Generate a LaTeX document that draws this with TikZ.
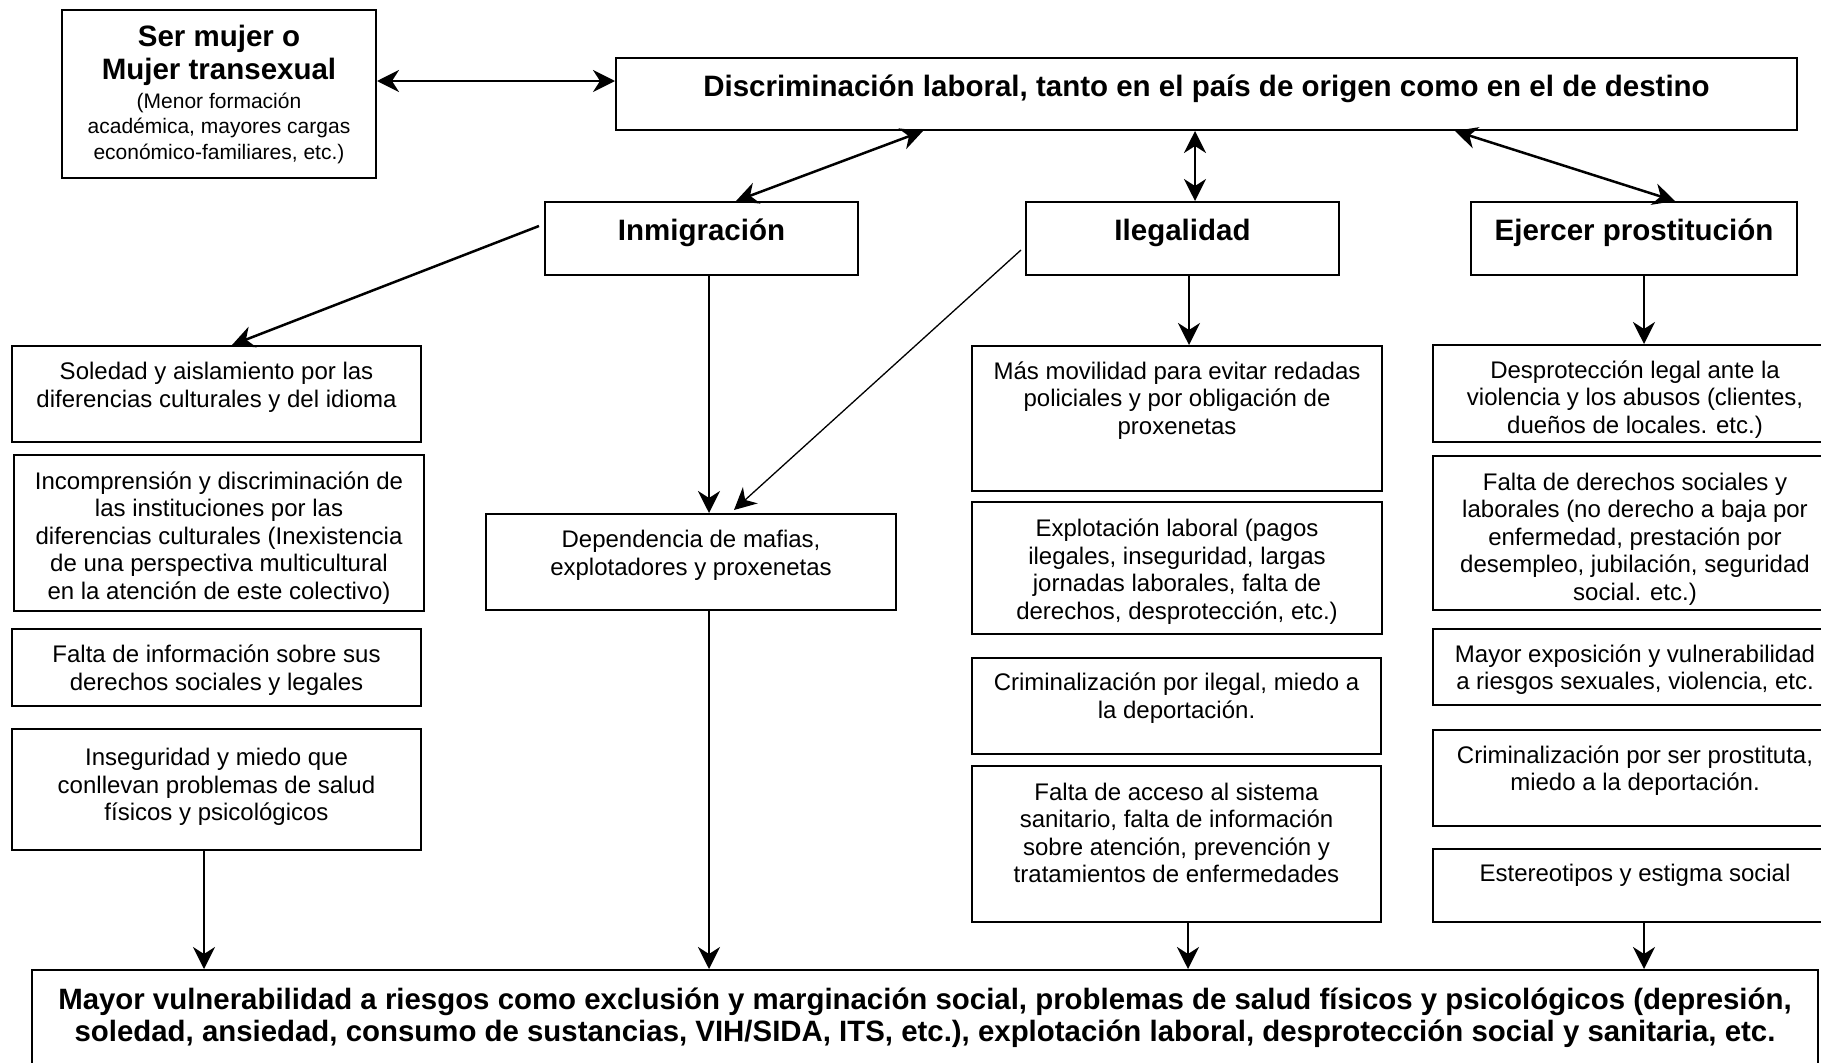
\documentclass[tikz,border=0pt]{standalone}
\usepackage{fontspec}
\setsansfont{Liberation Sans}
\usetikzlibrary{arrows.meta}
\tikzset{%
  >={Stealth[length=22pt,width=22pt,inset=7pt]},
  % Specifications for style of nodes:
        base/.style = {rectangle, draw=black, line width=2pt, align=center,
                       inner sep=0pt, font=\sffamily\fontsize{24}{27.5}\selectfont},
       cause/.style = {base, minimum height=73pt, text height=20pt, text depth=16pt,
                       font=\sffamily\bfseries\fontsize{29.5}{33}\selectfont},
      effect/.style = {base, minimum width=409pt},
  prostEffect/.style = {base, minimum width=404pt},
    thinline/.style = {line width=1.3pt},
}
% text placed lower (strut on first line) or higher (empty last line) in its box
\newcommand{\down}[1]{\rule{0pt}{#1}}
\newcommand{\up}[1]{\\[#1]~}

\begin{document}
\begin{tikzpicture}[x=1pt, y=-1pt, line width=2.5pt]
  \useasboundingbox (0,0) rectangle (1821,1063);

  % Specification of nodes (position, etc.)
  \node (mujer)    [base, minimum width=314pt, minimum height=168pt] at (219,94)
     {\bfseries\fontsize{29.5}{33}\selectfont Ser mujer o\\[5.5pt]
      \bfseries\fontsize{29.5}{33}\selectfont Mujer transexual\\[1.5pt]
      \fontsize{21}{25}\selectfont (Menor formación\\[-2pt]
      \fontsize{21}{25}\selectfont académica, mayores cargas\\[-2pt]
      \fontsize{21}{25}\selectfont económico-familiares, etc.)};
  \node (discrim)  [cause, minimum width=1181pt, minimum height=72pt] at (1206.5,94)
     {Discriminación laboral, tanto en el país de origen como en el de destino};
  \node (inmig)    [cause, minimum width=313pt] at (701.5,238.5) {Inmigración};
  \node (ilegal)   [cause, minimum width=313pt] at (1182.5,238.5) {Ilegalidad};
  \node (prosti)   [cause, minimum width=326pt] at (1634,238.5) {Ejercer prostitución};

  % consequences of immigration
  \node (soledad)  [effect, minimum height=96pt] at (216.5,394)
     {Soledad y aislamiento por las\\diferencias culturales y del idioma\up{-9pt}};
  \node (incompr)  [effect, minimum width=410pt, minimum height=156pt] at (219,533)
     {\down{27pt}Incomprensión y discriminación de\\las instituciones por las\\diferencias culturales (Inexistencia\\de una perspectiva multicultural\\en la atención de este colectivo)};
  \node (faltaInfo) [effect, minimum height=77pt] at (216.5,667.5)
     {\down{23pt}Falta de información sobre sus\\derechos sociales y legales};
  \node (insegur)  [effect, minimum height=121pt] at (216.5,789.5)
     {Inseguridad y miedo que\\conllevan problemas de salud\\físicos y psicológicos\up{-18pt}};
  \node (dependen) [effect, minimum width=410pt, minimum height=96pt] at (691,562)
     {Dependencia de mafias,\\explotadores y proxenetas\up{-9pt}};

  % consequences of illegality
  \node (movilidad) [effect, minimum width=410pt, minimum height=145pt] at (1177,418.5)
     {Más movilidad para evitar redadas\\policiales y por obligación de\\proxenetas\up{14pt}};
  \node (explotac) [effect, minimum width=410pt, minimum height=132pt] at (1177,568)
     {\down{25pt}Explotación laboral (pagos\\ilegales, inseguridad, largas\\jornadas laborales, falta de\\derechos, desprotección, etc.)};
  \node (crimIlegal) [effect, minimum height=96pt] at (1176.5,706)
     {Criminalización por ilegal, miedo a\\la deportación.\up{-7pt}};
  \node (acceso)   [effect, minimum height=156pt] at (1176.5,844)
     {Falta de acceso al sistema\\sanitario, falta de información\\sobre atención, prevención y\\tratamientos de enfermedades\up{-5pt}};

  % consequences of prostitution
  \node (desprot)  [prostEffect, minimum height=97pt] at (1635,393.5)
     {\down{29pt}Desprotección legal ante la\\violencia y los abusos (clientes,\\dueños de locales. etc.)};
  \node (derechos) [prostEffect, minimum height=154pt] at (1635,533)
     {\down{29pt}Falta de derechos sociales y\\laborales (no derecho a baja por\\enfermedad, prestación por\\desempleo, jubilación, seguridad\\social. etc.)};
  \node (exposic)  [prostEffect, minimum height=76pt] at (1635,667)
     {\down{23pt}Mayor exposición y vulnerabilidad\\a riesgos sexuales, violencia, etc.};
  \node (crimProst) [prostEffect, minimum height=96pt] at (1635,778)
     {Criminalización por ser prostituta,\\miedo a la deportación.\up{-8pt}};
  \node (estigma)  [prostEffect, minimum height=73pt] at (1635,885.5)
     {Estereotipos y estigma social\up{-2pt}};

  \node (vulnerab) [base, minimum width=1786pt, minimum height=96pt,
                    font=\sffamily\bfseries\fontsize{29.4}{32}\selectfont] at (925,1018)
     {Mayor vulnerabilidad a riesgos como exclusión y marginación social, problemas de salud físicos y psicológicos (depresión,\\soledad, ansiedad, consumo de sustancias, VIH/SIDA, ITS, etc.), explotación laboral, desprotección social y sanitaria, etc.};

  % free ends of the lines leaving the boxes sideways
  \coordinate (inmigOut) at (539,226);
  \coordinate (ilegalOut) at (1021,250);

  % Specification of lines between nodes specified above
  \draw[<->] ([yshift=13pt]mujer.east) -- ([yshift=13pt]discrim.west);
  \draw[<->] ([xshift=-283.5pt]discrim.south) -- ([xshift=34.5pt]inmig.north);
  \draw[<->] ([xshift=-11.5pt]discrim.south) -- ([xshift=12.5pt]ilegal.north);
  \draw[<->] ([xshift=248.5pt]discrim.south) -- ([xshift=41pt]prosti.north);

  \draw[->] (inmigOut) -- ([xshift=15.5pt]soledad.north);
  \draw[->] ([xshift=7.5pt]inmig.south) -- ([xshift=18pt]dependen.north);
  \draw[->, thinline] (ilegalOut) -- ([xshift=43pt, yshift=3pt]dependen.north);
  \draw[->] ([xshift=6.5pt]ilegal.south) -- ([xshift=12pt]movilidad.north);
  \draw[->] ([xshift=10pt]prosti.south) -- ([xshift=10pt]prosti.south |- desprot.north);

  \draw[->] ([xshift=-12.5pt]insegur.south) -- ([xshift=-12.5pt]insegur.south |- vulnerab.north);
  \draw[->] ([xshift=18pt]dependen.south) -- ([xshift=18pt]dependen.south |- vulnerab.north);
  \draw[->] ([xshift=11.5pt]acceso.south) -- ([xshift=11.5pt]acceso.south |- vulnerab.north);
  \draw[->] ([xshift=9pt]estigma.south) -- ([xshift=9pt]estigma.south |- vulnerab.north);
\end{tikzpicture}
\end{document}
